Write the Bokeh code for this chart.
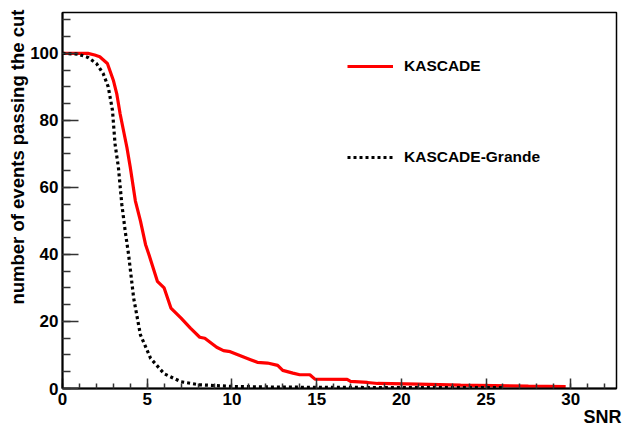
from bokeh.plotting import figure
from bokeh.models import Range1d, Legend, LegendItem, SingleIntervalTicker, Title
from bokeh.embed import file_html
from bokeh.resources import INLINE

# KASCADE (red, solid)
kascade_snr = [0, 1.5, 1.9, 2.2, 2.65, 3.0, 3.2, 3.4, 3.8, 4.0, 4.3, 4.6, 4.9, 5.1, 5.6,
               6.0, 6.4, 7.0, 7.55, 8.1, 8.4, 9.1, 9.5, 9.9, 10.5, 11.1, 11.5, 12.1,
               12.7, 13.0, 13.6, 14.0, 14.6, 14.9, 16.8, 17.0, 18.0, 18.6, 21.0, 23.5,
               27.5, 29.7]
kascade_pct = [100, 100, 99.5, 99, 97, 92, 88, 82, 72, 66, 56, 50, 43, 40, 32,
               30, 24, 21, 18, 15.3, 15, 12.3, 11.3, 11, 9.8, 8.6, 7.8, 7.6,
               6.9, 5.4, 4.6, 4.1, 4.1, 2.8, 2.7, 2.1, 1.8, 1.5, 1.3, 1.0,
               0.7, 0.6]

# KASCADE-Grande (black, dotted)
grande_snr = [0, 0.9, 1.5, 2.0, 2.4, 2.7, 2.95, 3.1, 3.3, 3.5, 3.7, 3.9, 4.2, 4.6,
              5.2, 6.0, 7.0, 8.1, 10.1, 13.0, 18.0, 26.0]
grande_pct = [100, 99.8, 98.8, 97, 94, 90, 83, 73, 66, 55, 47, 40, 27, 16,
              9, 4.4, 2, 1.1, 0.6, 0.4, 0.3, 0.3]

series_labels = ["KASCADE", "KASCADE-Grande"]
x_title = "SNR"
y_title = "number of events passing the cut"

FONT = "Liberation Sans"

p = figure(width=626, height=425, output_backend="svg", toolbar_location=None,
           x_range=Range1d(0, 32.7), y_range=Range1d(0, 112.2),
           min_border_left=62, min_border_right=10, min_border_top=12,
           min_border_bottom=37)
p.grid.visible = False
p.outline_line_color = "black"
p.outline_line_width = 1.5
p.background_fill_color = "white"
p.border_fill_color = "white"

for ax in (p.xaxis[0], p.yaxis[0]):
    ax.axis_line_width = 2
    ax.axis_line_color = "black"
    ax.major_tick_out = 0
    ax.minor_tick_out = 0
    ax.major_tick_line_color = "#333333"
    ax.minor_tick_line_color = "#333333"
    ax.major_tick_line_width = 1.5
    ax.minor_tick_line_width = 1.5
    ax.major_label_text_font = FONT
    ax.major_label_text_font_style = "bold"
    ax.major_label_text_font_size = "17px"
    ax.major_label_text_color = "black"
    ax.major_label_standoff = 4

p.xaxis.ticker = SingleIntervalTicker(interval=5, num_minor_ticks=5)
p.yaxis.ticker = SingleIntervalTicker(interval=20, num_minor_ticks=4)
p.xaxis.major_tick_in = 10
p.xaxis.minor_tick_in = 5
p.yaxis.major_tick_in = 16
p.yaxis.minor_tick_in = 8

ty = Title(text=y_title, align="right", text_font=FONT, text_font_style="bold",
           text_font_size="18.5px", text_color="black", standoff=0, offset=-3)
p.add_layout(ty, "left")
tx = Title(text=x_title, align="right", text_font=FONT, text_font_style="bold",
           text_font_size="18px", text_color="black", offset=-5)
try:
    tx.standoff = -5
except Exception:
    pass
p.add_layout(tx, "below")

r1 = p.line(kascade_snr, kascade_pct, line_color="#ff0000", line_width=3.2)
r2 = p.line(grande_snr, grande_pct, line_color="black", line_width=3.2,
            line_dash="3 3")

legend = Legend(items=[LegendItem(label=series_labels[0], renderers=[r1]),
                       LegendItem(label=series_labels[1], renderers=[r2])],
                location=(285, 221), orientation="vertical",
                glyph_width=46, glyph_height=20, spacing=71,
                label_standoff=11, padding=0, margin=0,
                border_line_alpha=0, background_fill_alpha=0,
                label_text_font=FONT, label_text_font_style="bold",
                label_text_font_size="15.5px", label_text_color="black")
p.add_layout(legend, "center")

open("out.html", "w").write(file_html(p, INLINE))
